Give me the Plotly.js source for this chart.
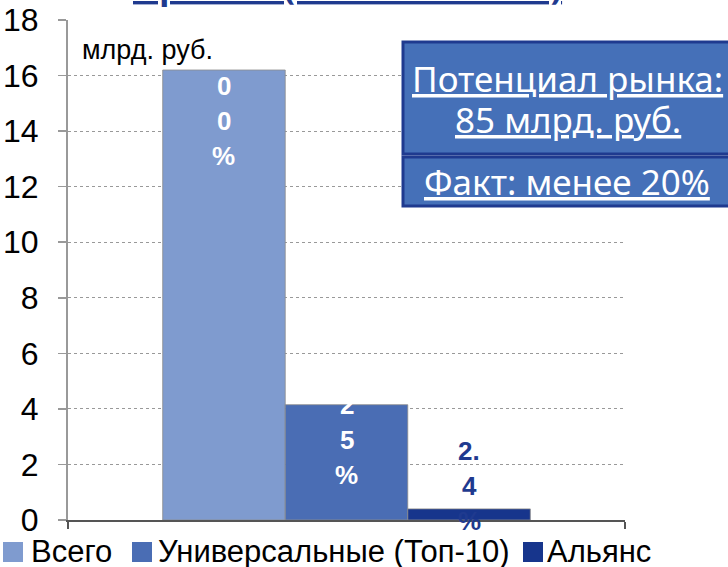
<!DOCTYPE html>
<html>
<head>
<meta charset="utf-8">
<script src="https://cdn.plot.ly/plotly-3.0.1.min.js"></script>
<style>html,body{margin:0;padding:0;background:#fff;}#chart{width:728px;height:567px;}</style>
</head>
<body>
<div id="chart"></div>
<script>
// ---- data ----
const categories = ['Премии'];
const seriesNames = ['Всего', 'Универсальные (Топ-10)', 'Альянс'];
const seriesValues = [16.2, 4.15, 0.4];
const shareLabels = ['100%', '25%', '2.4%'];
const yTickValues = [0, 2, 4, 6, 8, 10, 12, 14, 16, 18];
const chartTitle = 'Премии (всего в России)';
const unitLabel = 'млрд. руб.';
const boxLines1 = ['Потенциал рынка:', '85 млрд. руб.'];
const boxLine2 = 'Факт: менее 20%';

// ---- styles ----
const seriesColors = ['#7F9BCF', '#4A6DB4', '#17358C'];
const labelColors = ['#FFFFFF', '#FFFFFF', '#1F3A8F'];
const labelShift = [-33, -35, 23];   // px shift of label block centre from bar top
const lineStep = 35;
const W = 728, H = 567;
const M = {l: 68, r: 103, t: 20, b: 47};
const pw = W - M.l - M.r, ph = H - M.t - M.b;
const px = x => (x - M.l) / pw;
const py = y => (H - M.b - y) / ph;
const bargap = 0.34;
const armF = 'Liberation Sans, Arial, sans-serif';
const boxF = 'Noto Sans, Open Sans, sans-serif';

const traces = seriesNames.map((n, i) => ({
  type: 'bar', name: n, x: categories, y: [seriesValues[i]],
  marker: {color: seriesColors[i], line: {color: 'rgba(140,140,140,0.8)', width: 1}},
  showlegend: false, hoverinfo: 'name+y'
}));

const annotations = [];
const shapes = [];

// bar labels (one character group per line)
const groupW = 1 - bargap;
seriesNames.forEach((n, i) => {
  const parts = shareLabels[i].match(/\d\.?|%/g);
  const xc = (i - (seriesNames.length - 1) / 2) * groupW / seriesNames.length;
  parts.forEach((p, k) => {
    annotations.push({
      xref: 'x', yref: 'y', x: xc, y: seriesValues[i],
      text: '<b>' + p + '</b>', showarrow: false,
      yanchor: 'middle', xanchor: 'center',
      yshift: labelShift[i] + ((parts.length - 1) / 2 - k) * lineStep,
      font: {family: armF, size: 26, color: labelColors[i]}
    });
  });
});

// unit label
annotations.push({xref: 'paper', yref: 'paper', x: px(80), y: py(50), xanchor: 'left', yanchor: 'middle',
  text: unitLabel, showarrow: false, font: {family: armF, size: 27, color: '#000'}});

// title (cut at top)
annotations.push({xref: 'paper', yref: 'paper', x: px(347), y: py(-14), xanchor: 'center', yanchor: 'middle',
  text: '<u><b>' + chartTitle + '</b></u>', showarrow: false, font: {family: boxF, size: 34, color: '#1F3A8F'}});

// boxes
shapes.push({type: 'rect', xref: 'paper', yref: 'paper', x0: px(403), x1: px(770), y0: py(154), y1: py(42),
  fillcolor: '#4570B8', line: {color: '#1F3A8F', width: 3}});
shapes.push({type: 'rect', xref: 'paper', yref: 'paper', x0: px(403), x1: px(770), y0: py(206), y1: py(157),
  fillcolor: '#4570B8', line: {color: '#1F3A8F', width: 3}});
annotations.push({xref: 'paper', yref: 'paper', x: px(567), y: py(78), xanchor: 'center', yanchor: 'middle',
  text: '<u>' + boxLines1[0] + '</u>', showarrow: false, font: {family: boxF, size: 35, color: '#fff'}});
annotations.push({xref: 'paper', yref: 'paper', x: px(568), y: py(120), xanchor: 'center', yanchor: 'middle',
  text: '<u>' + boxLines1[1] + '</u>', showarrow: false, font: {family: boxF, size: 35, color: '#fff'}});
annotations.push({xref: 'paper', yref: 'paper', x: px(567), y: py(182), xanchor: 'center', yanchor: 'middle',
  text: '<u>' + boxLine2 + '</u>', showarrow: false, font: {family: boxF, size: 35, color: '#fff'}});

// legend (manual)
const legSq = [3, 132, 523];
const legTx = [29, 156, 545];
seriesNames.forEach((n, i) => {
  shapes.push({type: 'rect', xref: 'paper', yref: 'paper', x0: px(legSq[i]), x1: px(legSq[i] + 20),
    y0: py(562), y1: py(542), fillcolor: seriesColors[i], line: {width: 0}});
  annotations.push({xref: 'paper', yref: 'paper', x: px(legTx[i]), y: py(551), xanchor: 'left', yanchor: 'middle',
    text: n, showarrow: false, font: {family: armF, size: 31, color: '#000'}});
});

const layout = {
  width: W, height: H, margin: M,
  paper_bgcolor: '#fff', plot_bgcolor: '#fff',
  barmode: 'group', bargap: bargap, bargroupgap: 0,
  showlegend: false,
  xaxis: {type: 'category', showticklabels: false, showline: true, linecolor: '#555', linewidth: 1.5,
    ticks: 'outside', tickson: 'boundaries', ticklen: 7, tickcolor: '#555', tickwidth: 1.5, showgrid: false},
  yaxis: {range: [0, 18], tickvals: yTickValues, showline: true, linecolor: '#999', linewidth: 2,
    ticks: 'outside', ticklen: 8, tickcolor: '#999', tickwidth: 1.5, zeroline: false,
    showgrid: true, gridcolor: '#999', griddash: 'dot', gridwidth: 1,
    ticklabelstandoff: 13, tickfont: {family: armF, size: 32, color: '#000'}},
  annotations: annotations, shapes: shapes
};

Plotly.newPlot('chart', traces, layout, {displayModeBar: false, staticPlot: true});
</script>
</body>
</html>
